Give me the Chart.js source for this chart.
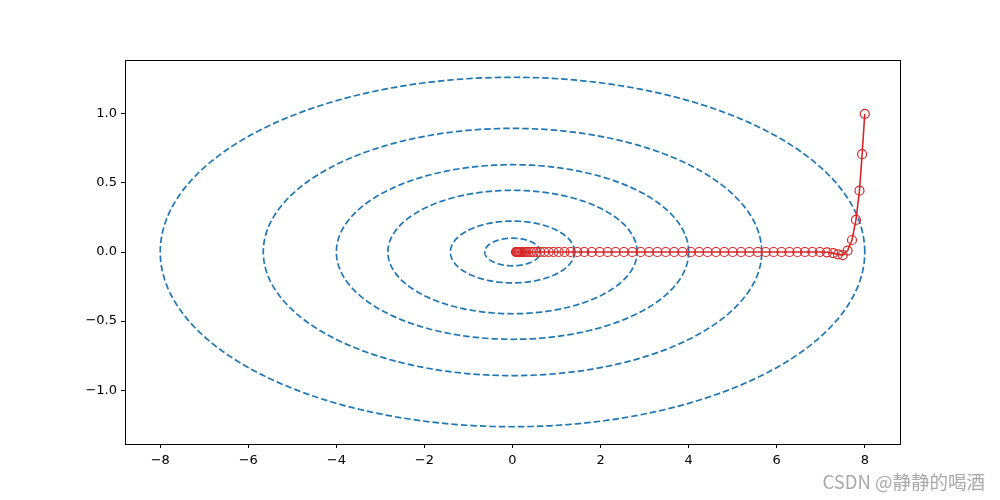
<!DOCTYPE html>
<html>
<head>
<meta charset="utf-8">
<script src="https://cdn.jsdelivr.net/npm/chart.js@4.4.0/dist/chart.umd.min.js"></script>
<style>
  html, body { margin: 0; padding: 0; background: #fff; }
  canvas { display: block; }
</style>
</head>
<body>
<canvas id="chart" width="1000" height="500"></canvas>
<script>
// contour ellipses: half-widths along x and y
const contourRx = [8.0, 5.66, 4.0, 2.83, 1.41, 0.63];
const contourRy = [1.265, 0.895, 0.632, 0.447, 0.224, 0.1];

// optimizer path (red)
const pathX = [8.0, 7.94, 7.88, 7.80, 7.71, 7.61, 7.50, 7.39, 7.28, 7.14,
  6.98, 6.81, 6.64, 6.47, 6.29, 6.11, 5.93, 5.75, 5.57, 5.38,
  5.19, 5.00, 4.81, 4.62, 4.43, 4.24, 4.05, 3.86, 3.67, 3.48,
  3.29, 3.10, 2.91, 2.72, 2.53, 2.34, 2.16, 1.98, 1.80, 1.63,
  1.47, 1.32, 1.18, 1.05, 0.93, 0.82, 0.72, 0.63, 0.55, 0.48,
  0.42, 0.36, 0.31, 0.27, 0.23, 0.20, 0.17, 0.15, 0.13, 0.11,
  0.10, 0.09, 0.08];
const pathY = [1.0, 0.708, 0.444, 0.232, 0.087, 0.01, -0.022, -0.017, -0.008, -0.002,
  0, 0, 0, 0, 0, 0, 0, 0, 0, 0,
  0, 0, 0, 0, 0, 0, 0, 0, 0, 0,
  0, 0, 0, 0, 0, 0, 0, 0, 0, 0,
  0, 0, 0, 0, 0, 0, 0, 0, 0, 0,
  0, 0, 0, 0, 0, 0, 0, 0, 0, 0,
  0, 0, 0];

const xTicks = [-8, -6, -4, -2, 0, 2, 4, 6, 8];
const yTicks = [-1.0, -0.5, 0.0, 0.5, 1.0];

const minus = v => String(v).replace('-', '\u2212');

// closed outline for each contour level
function ellipsePoints(rx, ry) {
  const pts = [];
  const n = 240;
  for (let i = 0; i <= n; i++) {
    const t = (i / n) * Math.PI * 2;
    pts.push({ x: rx * Math.cos(t), y: ry * Math.sin(t) });
  }
  return pts;
}

const datasets = contourRx.map((rx, i) => ({
  data: ellipsePoints(rx, contourRy[i]),
  showLine: true,
  borderColor: '#1f77b4',
  borderWidth: 1.7,
  borderDash: [6.5, 3],
  pointRadius: 0,
  order: 2
}));

datasets.push({
  data: pathX.map((x, i) => ({ x: x, y: pathY[i] })),
  showLine: true,
  borderColor: '#d62728',
  borderWidth: 1.6,
  pointRadius: 4.5,
  pointBorderWidth: 1.2,
  pointBorderColor: '#d62728',
  pointBackgroundColor: 'rgba(0,0,0,0)',
  order: 0
});

// frame around plot area + watermark
const framePlugin = {
  id: 'frame',
  afterDraw(chart) {
    const { ctx, chartArea: a } = chart;
    ctx.save();
    ctx.strokeStyle = '#000';
    ctx.lineWidth = 1;
    ctx.strokeRect(a.left + 0.5, a.top + 0.5, a.right - a.left, a.bottom - a.top);
    ctx.fillStyle = 'rgba(160,160,160,0.9)';
    ctx.font = '18.5px "Noto Sans CJK SC", "DejaVu Sans", sans-serif';
    ctx.textAlign = 'right';
    ctx.textBaseline = 'alphabetic';
    ctx.fillText('CSDN @静静的喝酒', 985, 489);
    ctx.restore();
  }
};

const tickFont = { family: 'DejaVu Sans', size: 13 };

new Chart(document.getElementById('chart'), {
  type: 'scatter',
  data: { datasets: datasets },
  options: {
    responsive: false,
    animation: false,
    layout: { padding: { left: 0, top: 60, right: 100, bottom: 0 } },
    plugins: { legend: { display: false }, tooltip: { enabled: false } },
    scales: {
      x: {
        min: -8.8, max: 8.8,
        afterBuildTicks: s => { s.ticks = xTicks.map(v => ({ value: v })); },
        afterFit: s => { s.height = 56; },
        grid: { drawOnChartArea: false, tickLength: 4, color: '#000' },
        border: { display: false },
        ticks: { color: '#000', font: tickFont, padding: 5, maxRotation: 0,
          callback: v => minus(v) }
      },
      y: {
        min: -1.39, max: 1.39,
        afterBuildTicks: s => { s.ticks = yTicks.map(v => ({ value: v })); },
        afterFit: s => { s.width = 125; },
        grid: { drawOnChartArea: false, tickLength: 4, color: '#000' },
        border: { display: false },
        ticks: { color: '#000', font: tickFont, padding: 4,
          callback: v => minus(v.toFixed(1)) }
      }
    }
  },
  plugins: [framePlugin]
});
</script>
</body>
</html>
